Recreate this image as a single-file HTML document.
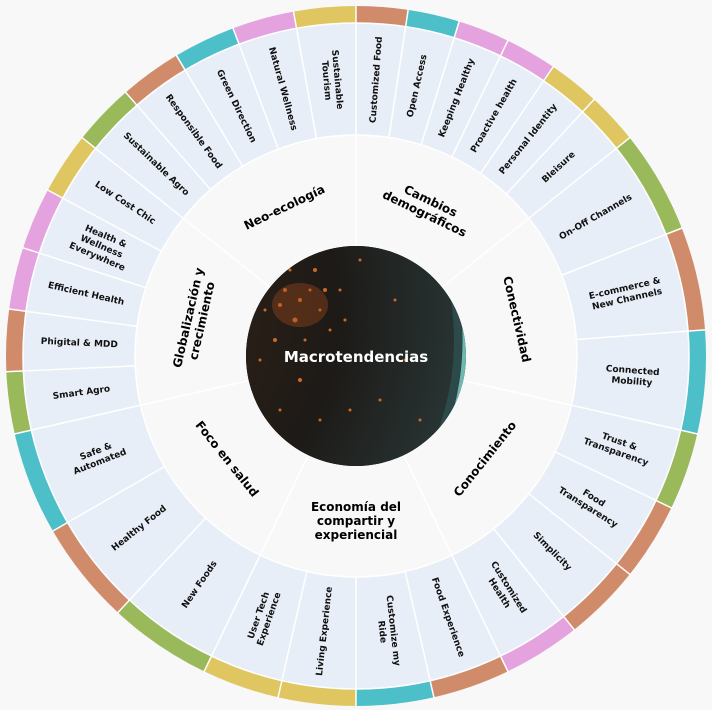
<!DOCTYPE html>
<html><head><meta charset="utf-8"><style>
html,body{margin:0;padding:0;background:#f8f8f8;width:712px;height:710px;overflow:hidden;}
svg{display:block;}
.b{fill:none;stroke-width:17;}
.it{font-family:"DejaVu Sans","Liberation Sans",sans-serif;font-weight:bold;font-size:9px;fill:#111;text-anchor:middle;dominant-baseline:central;}
.ct{font-family:"DejaVu Sans","Liberation Sans",sans-serif;font-weight:bold;font-size:12px;fill:#000;text-anchor:middle;dominant-baseline:central;}
.sep line{stroke:#fff;stroke-width:1.5;}
</style></head><body>
<svg width="712" height="710" viewBox="0 0 712 710" xmlns="http://www.w3.org/2000/svg">
<defs>
<clipPath id="cc"><circle cx="356" cy="356" r="110"/></clipPath>
<radialGradient id="eg" cx="0.35" cy="0.45" r="0.7"><stop offset="0" stop-color="#3a2418"/><stop offset="0.6" stop-color="#1d1a17"/><stop offset="1" stop-color="#2a3a3a"/></radialGradient>
</defs>
<rect width="712" height="710" fill="#f8f8f8"/>
<circle cx="356" cy="356" r="221" fill="#f8f8f8"/>
<circle cx="356" cy="356" r="277" fill="none" stroke="#e8eef7" stroke-width="112"/>
<g>
<circle class="b" cx="356" cy="356" r="341.5" pathLength="360" stroke="#d08b6a" stroke-dasharray="8.57 400" transform="rotate(-90 356 356)"/>
<circle class="b" cx="356" cy="356" r="341.5" pathLength="360" stroke="#4dbfc8" stroke-dasharray="8.57 400" transform="rotate(-81.43 356 356)"/>
<circle class="b" cx="356" cy="356" r="341.5" pathLength="360" stroke="#e4a3de" stroke-dasharray="17.14 400" transform="rotate(-72.86 356 356)"/>
<circle class="b" cx="356" cy="356" r="341.5" pathLength="360" stroke="#e0c661" stroke-dasharray="17.14 400" transform="rotate(-55.71 356 356)"/>
<circle class="b" cx="356" cy="356" r="341.5" pathLength="360" stroke="#99b95a" stroke-dasharray="17.14 400" transform="rotate(-38.57 356 356)"/>
<circle class="b" cx="356" cy="356" r="341.5" pathLength="360" stroke="#d08b6a" stroke-dasharray="17.14 400" transform="rotate(-21.43 356 356)"/>
<circle class="b" cx="356" cy="356" r="341.5" pathLength="360" stroke="#4dbfc8" stroke-dasharray="17.14 400" transform="rotate(-4.29 356 356)"/>
<circle class="b" cx="356" cy="356" r="341.5" pathLength="360" stroke="#99b95a" stroke-dasharray="12.86 400" transform="rotate(12.86 356 356)"/>
<circle class="b" cx="356" cy="356" r="341.5" pathLength="360" stroke="#d08b6a" stroke-dasharray="25.72 400" transform="rotate(25.71 356 356)"/>
<circle class="b" cx="356" cy="356" r="341.5" pathLength="360" stroke="#e4a3de" stroke-dasharray="12.86 400" transform="rotate(51.43 356 356)"/>
<circle class="b" cx="356" cy="356" r="341.5" pathLength="360" stroke="#d08b6a" stroke-dasharray="12.86 400" transform="rotate(64.29 356 356)"/>
<circle class="b" cx="356" cy="356" r="341.5" pathLength="360" stroke="#4dbfc8" stroke-dasharray="12.86 400" transform="rotate(77.14 356 356)"/>
<circle class="b" cx="356" cy="356" r="341.5" pathLength="360" stroke="#e0c661" stroke-dasharray="25.71 400" transform="rotate(90 356 356)"/>
<circle class="b" cx="356" cy="356" r="341.5" pathLength="360" stroke="#99b95a" stroke-dasharray="17.14 400" transform="rotate(115.71 356 356)"/>
<circle class="b" cx="356" cy="356" r="341.5" pathLength="360" stroke="#d08b6a" stroke-dasharray="17.14 400" transform="rotate(132.86 356 356)"/>
<circle class="b" cx="356" cy="356" r="341.5" pathLength="360" stroke="#4dbfc8" stroke-dasharray="17.14 400" transform="rotate(150 356 356)"/>
<circle class="b" cx="356" cy="356" r="341.5" pathLength="360" stroke="#99b95a" stroke-dasharray="10.29 400" transform="rotate(167.14 356 356)"/>
<circle class="b" cx="356" cy="356" r="341.5" pathLength="360" stroke="#d08b6a" stroke-dasharray="10.29 400" transform="rotate(177.43 356 356)"/>
<circle class="b" cx="356" cy="356" r="341.5" pathLength="360" stroke="#e4a3de" stroke-dasharray="20.57 400" transform="rotate(187.71 356 356)"/>
<circle class="b" cx="356" cy="356" r="341.5" pathLength="360" stroke="#e0c661" stroke-dasharray="10.29 400" transform="rotate(208.29 356 356)"/>
<circle class="b" cx="356" cy="356" r="341.5" pathLength="360" stroke="#99b95a" stroke-dasharray="10.29 400" transform="rotate(218.57 356 356)"/>
<circle class="b" cx="356" cy="356" r="341.5" pathLength="360" stroke="#d08b6a" stroke-dasharray="10.29 400" transform="rotate(228.86 356 356)"/>
<circle class="b" cx="356" cy="356" r="341.5" pathLength="360" stroke="#4dbfc8" stroke-dasharray="10.29 400" transform="rotate(239.14 356 356)"/>
<circle class="b" cx="356" cy="356" r="341.5" pathLength="360" stroke="#e4a3de" stroke-dasharray="10.29 400" transform="rotate(249.43 356 356)"/>
<circle class="b" cx="356" cy="356" r="341.5" pathLength="360" stroke="#e0c661" stroke-dasharray="10.29 400" transform="rotate(259.71 356 356)"/>
</g>
<circle cx="356" cy="356" r="221" fill="none" stroke="#fff" stroke-width="1.5"/>
<circle cx="356" cy="356" r="333" fill="none" stroke="#fff" stroke-width="1.5"/>
<g class="sep">
<line x1="356" y1="135" x2="356" y2="5" transform="rotate(0 356 356)"/>
<line x1="356" y1="135" x2="356" y2="5" transform="rotate(8.57 356 356)"/>
<line x1="356" y1="135" x2="356" y2="5" transform="rotate(17.14 356 356)"/>
<line x1="356" y1="135" x2="356" y2="5" transform="rotate(25.71 356 356)"/>
<line x1="356" y1="135" x2="356" y2="5" transform="rotate(34.29 356 356)"/>
<line x1="356" y1="135" x2="356" y2="5" transform="rotate(42.86 356 356)"/>
<line x1="356" y1="135" x2="356" y2="5" transform="rotate(51.43 356 356)"/>
<line x1="356" y1="135" x2="356" y2="5" transform="rotate(68.57 356 356)"/>
<line x1="356" y1="135" x2="356" y2="5" transform="rotate(85.71 356 356)"/>
<line x1="356" y1="135" x2="356" y2="5" transform="rotate(102.86 356 356)"/>
<line x1="356" y1="135" x2="356" y2="5" transform="rotate(115.71 356 356)"/>
<line x1="356" y1="135" x2="356" y2="5" transform="rotate(128.57 356 356)"/>
<line x1="356" y1="135" x2="356" y2="5" transform="rotate(141.43 356 356)"/>
<line x1="356" y1="135" x2="356" y2="5" transform="rotate(154.29 356 356)"/>
<line x1="356" y1="135" x2="356" y2="5" transform="rotate(167.14 356 356)"/>
<line x1="356" y1="135" x2="356" y2="5" transform="rotate(180 356 356)"/>
<line x1="356" y1="135" x2="356" y2="5" transform="rotate(192.86 356 356)"/>
<line x1="356" y1="135" x2="356" y2="5" transform="rotate(205.71 356 356)"/>
<line x1="356" y1="135" x2="356" y2="5" transform="rotate(222.86 356 356)"/>
<line x1="356" y1="135" x2="356" y2="5" transform="rotate(240 356 356)"/>
<line x1="356" y1="135" x2="356" y2="5" transform="rotate(257.14 356 356)"/>
<line x1="356" y1="135" x2="356" y2="5" transform="rotate(267.43 356 356)"/>
<line x1="356" y1="135" x2="356" y2="5" transform="rotate(277.71 356 356)"/>
<line x1="356" y1="135" x2="356" y2="5" transform="rotate(288 356 356)"/>
<line x1="356" y1="135" x2="356" y2="5" transform="rotate(298.29 356 356)"/>
<line x1="356" y1="135" x2="356" y2="5" transform="rotate(308.57 356 356)"/>
<line x1="356" y1="135" x2="356" y2="5" transform="rotate(318.86 356 356)"/>
<line x1="356" y1="135" x2="356" y2="5" transform="rotate(329.14 356 356)"/>
<line x1="356" y1="135" x2="356" y2="5" transform="rotate(339.43 356 356)"/>
<line x1="356" y1="135" x2="356" y2="5" transform="rotate(349.71 356 356)"/>
<line x1="356" y1="246" x2="356" y2="135" transform="rotate(0 356 356)"/>
<line x1="356" y1="246" x2="356" y2="135" transform="rotate(51.43 356 356)"/>
<line x1="356" y1="246" x2="356" y2="135" transform="rotate(102.86 356 356)"/>
<line x1="356" y1="246" x2="356" y2="135" transform="rotate(154.29 356 356)"/>
<line x1="356" y1="246" x2="356" y2="135" transform="rotate(205.71 356 356)"/>
<line x1="356" y1="246" x2="356" y2="135" transform="rotate(257.14 356 356)"/>
<line x1="356" y1="246" x2="356" y2="135" transform="rotate(308.57 356 356)"/>
</g>
<g clip-path="url(#cc)">
<rect x="240" y="240" width="232" height="232" fill="#030303"/>
<circle cx="190" cy="340" r="275" fill="url(#eg)" stroke="#6fb8b0" stroke-width="5"/>
<circle cx="190" cy="340" r="268" fill="none" stroke="#2e5a58" stroke-width="8" opacity="0.6"/>
<g fill="#e8782a" opacity="0.85">
<circle cx="300" cy="300" r="2"/><circle cx="310" cy="290" r="1.5"/><circle cx="295" cy="320" r="2.5"/><circle cx="320" cy="310" r="1.5"/><circle cx="285" cy="290" r="2"/><circle cx="330" cy="330" r="1.5"/><circle cx="275" cy="340" r="2"/><circle cx="290" cy="270" r="1.5"/><circle cx="315" cy="270" r="2"/><circle cx="340" cy="290" r="1.5"/><circle cx="265" cy="310" r="1.5"/><circle cx="350" cy="410" r="1.5"/><circle cx="380" cy="400" r="1.5"/><circle cx="300" cy="380" r="2"/><circle cx="320" cy="420" r="1.5"/><circle cx="280" cy="410" r="1.5"/><circle cx="405" cy="360" r="1.5"/><circle cx="395" cy="300" r="1.5"/><circle cx="360" cy="260" r="1.5"/><circle cx="420" cy="420" r="1.5"/>
<circle cx="270" cy="280" r="1.5"/><circle cx="305" cy="340" r="1.5"/><circle cx="260" cy="360" r="1.5"/><circle cx="345" cy="320" r="1.5"/><circle cx="325" cy="290" r="2"/><circle cx="280" cy="305" r="2"/>
</g>
<ellipse cx="300" cy="305" rx="28" ry="22" fill="#b0501c" opacity="0.35"/>
</g>
<text x="356" y="357" font-family="DejaVu Sans, Liberation Sans, sans-serif" font-weight="bold" font-size="15" fill="#fff" text-anchor="middle" dominant-baseline="central">Macrotendencias</text>

<g transform="rotate(25.71 356 356)"><text class="ct" x="356" y="191"><tspan x="356" dy="-7">Cambios</tspan><tspan x="356" dy="14">demográficos</tspan></text></g>
<g transform="rotate(77.14 356 356)"><text class="ct" x="356" y="191">Conectividad</text></g>
<g transform="rotate(128.57 356 356)"><text class="ct" transform="rotate(180 356 191)" x="356" y="191">Conocimiento</text></g>
<g transform="rotate(180 356 356)"><text class="ct" transform="rotate(180 356 191)" x="356" y="191"><tspan x="356" dy="-14">Economía del</tspan><tspan x="356" dy="14">compartir y</tspan><tspan x="356" dy="14">experiencial</tspan></text></g>
<g transform="rotate(231.43 356 356)"><text class="ct" transform="rotate(180 356 191)" x="356" y="191">Foco en salud</text></g>
<g transform="rotate(282.86 356 356)"><text class="ct" x="356" y="191"><tspan x="356" dy="-7">Globalización y</tspan><tspan x="356" dy="14">crecimiento</tspan></text></g>
<g transform="rotate(334.29 356 356)"><text class="ct" x="356" y="191">Neo-ecología</text></g>

<g transform="rotate(4.29 356 356)"><text class="it" transform="rotate(-90 356 79)" x="356" y="79">Customized Food</text></g>
<g transform="rotate(12.86 356 356)"><text class="it" transform="rotate(-90 356 79)" x="356" y="79">Open Access</text></g>
<g transform="rotate(21.43 356 356)"><text class="it" transform="rotate(-90 356 79)" x="356" y="79">Keeping Healthy</text></g>
<g transform="rotate(30 356 356)"><text class="it" transform="rotate(-90 356 79)" x="356" y="79">Proactive health</text></g>
<g transform="rotate(38.57 356 356)"><text class="it" transform="rotate(-90 356 79)" x="356" y="79">Personal Identity</text></g>
<g transform="rotate(47.14 356 356)"><text class="it" transform="rotate(-90 356 79)" x="356" y="79">Bleisure</text></g>
<g transform="rotate(60 356 356)"><text class="it" transform="rotate(-90 356 79)" x="356" y="79">On-Off Channels</text></g>
<g transform="rotate(77.14 356 356)"><text class="it" transform="rotate(-90 356 79)" x="356" y="79"><tspan x="356" dy="-5.5">E-commerce &amp;</tspan><tspan x="356" dy="11">New Channels</tspan></text></g>
<g transform="rotate(94.29 356 356)"><text class="it" transform="rotate(-90 356 79)" x="356" y="79"><tspan x="356" dy="-5.5">Connected</tspan><tspan x="356" dy="11">Mobility</tspan></text></g>
<g transform="rotate(109.29 356 356)"><text class="it" transform="rotate(-90 356 79)" x="356" y="79"><tspan x="356" dy="-5.5">Trust &amp;</tspan><tspan x="356" dy="11">Transparency</tspan></text></g>
<g transform="rotate(122.14 356 356)"><text class="it" transform="rotate(-90 356 79)" x="356" y="79"><tspan x="356" dy="-5.5">Food</tspan><tspan x="356" dy="11">Transparency</tspan></text></g>
<g transform="rotate(135 356 356)"><text class="it" transform="rotate(-90 356 79)" x="356" y="79">Simplicity</text></g>
<g transform="rotate(147.86 356 356)"><text class="it" transform="rotate(-90 356 79)" x="356" y="79"><tspan x="356" dy="-5.5">Customized</tspan><tspan x="356" dy="11">Health</tspan></text></g>
<g transform="rotate(160.71 356 356)"><text class="it" transform="rotate(-90 356 79)" x="356" y="79">Food Experience</text></g>
<g transform="rotate(173.57 356 356)"><text class="it" transform="rotate(-90 356 79)" x="356" y="79"><tspan x="356" dy="-5.5">Customize my</tspan><tspan x="356" dy="11">Ride</tspan></text></g>
<g transform="rotate(186.43 356 356)"><text class="it" transform="rotate(90 356 79)" x="356" y="79">Living Experience</text></g>
<g transform="rotate(199.29 356 356)"><text class="it" transform="rotate(90 356 79)" x="356" y="79"><tspan x="356" dy="-5.5">User Tech</tspan><tspan x="356" dy="11">Experience</tspan></text></g>
<g transform="rotate(214.29 356 356)"><text class="it" transform="rotate(90 356 79)" x="356" y="79">New Foods</text></g>
<g transform="rotate(231.43 356 356)"><text class="it" transform="rotate(90 356 79)" x="356" y="79">Healthy Food</text></g>
<g transform="rotate(248.57 356 356)"><text class="it" transform="rotate(90 356 79)" x="356" y="79"><tspan x="356" dy="-5.5">Safe &amp;</tspan><tspan x="356" dy="11">Automated</tspan></text></g>
<g transform="rotate(262.29 356 356)"><text class="it" transform="rotate(90 356 79)" x="356" y="79">Smart Agro</text></g>
<g transform="rotate(272.57 356 356)"><text class="it" transform="rotate(90 356 79)" x="356" y="79">Phigital &amp; MDD</text></g>
<g transform="rotate(282.86 356 356)"><text class="it" transform="rotate(90 356 79)" x="356" y="79">Efficient Health</text></g>
<g transform="rotate(293.14 356 356)"><text class="it" transform="rotate(90 356 79)" x="356" y="79"><tspan x="356" dy="-11">Health &amp;</tspan><tspan x="356" dy="11">Wellness</tspan><tspan x="356" dy="11">Everywhere</tspan></text></g>
<g transform="rotate(303.43 356 356)"><text class="it" transform="rotate(90 356 79)" x="356" y="79">Low Cost Chic</text></g>
<g transform="rotate(313.71 356 356)"><text class="it" transform="rotate(90 356 79)" x="356" y="79">Sustainable Agro</text></g>
<g transform="rotate(324 356 356)"><text class="it" transform="rotate(90 356 79)" x="356" y="79">Responsible Food</text></g>
<g transform="rotate(334.29 356 356)"><text class="it" transform="rotate(90 356 79)" x="356" y="79">Green Direction</text></g>
<g transform="rotate(344.57 356 356)"><text class="it" transform="rotate(90 356 79)" x="356" y="79">Natural Wellness</text></g>
<g transform="rotate(354.86 356 356)"><text class="it" transform="rotate(90 356 79)" x="356" y="79"><tspan x="356" dy="-5.5">Sustainable</tspan><tspan x="356" dy="11">Tourism</tspan></text></g>
</svg>
</body></html>
